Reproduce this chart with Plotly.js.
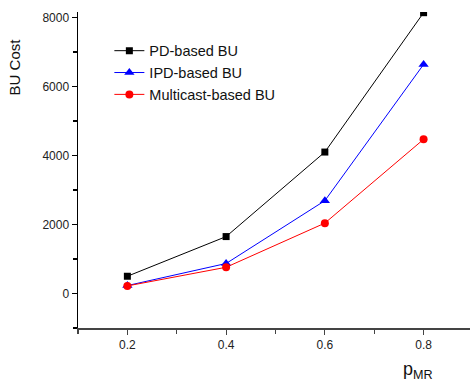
<!DOCTYPE html>
<html><head><meta charset="utf-8">
<script src="https://cdn.plot.ly/plotly-3.0.1.min.js"></script>
<style>html,body{margin:0;padding:0;background:#fff;}#chart{width:470px;height:385px;}</style>
</head><body><div id="chart"></div>
<script>
const pMR = [0.2, 0.4, 0.6, 0.8];
const pdBU = [500, 1650, 4100, 8140];
const ipdBU = [230, 870, 2690, 6640];
const multicastBU = [220, 760, 2040, 4470];
const seriesNames = ['PD-based BU', 'IPD-based BU', 'Multicast-based BU'];
const xTickVals = [0.2, 0.4, 0.6, 0.8];
const xTickText = ['0.2', '0.4', '0.6', '0.8'];
const yTickVals = [0, 2000, 4000, 6000, 8000];
const yTickText = ['0', '2000', '4000', '6000', '8000'];

const traces = [
  {x: pMR, y: pdBU, name: seriesNames[0], mode: 'lines+markers',
   line: {color: '#000000', width: 1}, marker: {symbol: 'square', size: 7, color: '#000000'}},
  {x: pMR, y: ipdBU, name: seriesNames[1], mode: 'lines+markers',
   line: {color: '#0000ff', width: 1}, marker: {symbol: 'triangle-up', size: 9, color: '#0000ff'}},
  {x: pMR, y: multicastBU, name: seriesNames[2], mode: 'lines+markers',
   line: {color: '#ff0000', width: 1}, marker: {symbol: 'circle', size: 8, color: '#ff0000'}}
];

const layout = {
  width: 470, height: 385,
  margin: {l: 78, r: 0, t: 12, b: 57},
  paper_bgcolor: '#fff', plot_bgcolor: '#fff',
  font: {family: 'Liberation Sans, Arial, sans-serif', size: 12, color: '#222'},
  showlegend: true,
  legend: {x: 0.08, y: 0.928, xanchor: 'left', yanchor: 'top', bgcolor: 'rgba(0,0,0,0)',
           font: {size: 14.5, color: '#111'}, tracegroupgap: 0, itemsizing: 'trace'},
  xaxis: {range: [0.1, 0.894], showgrid: false, zeroline: false,
          showline: true, linecolor: '#444', linewidth: 1.5,
          ticks: 'outside', ticklen: 5, tickwidth: 1.2, tickcolor: '#444',
          tickvals: xTickVals, ticktext: xTickText, tickfont: {size: 12, color: '#222'},
          minor: {tickvals: [0.1, 0.3, 0.5, 0.7], ticks: 'outside', ticklen: 4, tickwidth: 1.2, tickcolor: '#444'}},
  yaxis: {range: [-1000, 8160], showgrid: false, zeroline: false,
          showline: true, linecolor: '#000', linewidth: 1.5,
          ticks: 'outside', ticklen: 5, tickwidth: 1.2, tickcolor: '#000',
          tickvals: yTickVals, ticktext: yTickText, tickfont: {size: 12, color: '#222'},
          minor: {tickvals: [-1000, 1000, 3000, 5000, 7000], ticks: 'outside', ticklen: 4, tickwidth: 1.2, tickcolor: '#000'}},
  annotations: [
    {text: 'BU Cost', xref: 'paper', yref: 'paper', x: -0.163, y: 0.825, textangle: -90,
     showarrow: false, font: {size: 15, color: '#111'}, xanchor: 'center', yanchor: 'middle'},
    {text: 'p<sub>MR</sub>', xref: 'paper', yref: 'paper', x: 0.867, y: -0.133,
     showarrow: false, font: {size: 18, color: '#111'}, xanchor: 'center', yanchor: 'middle'}
  ]
};

Plotly.newPlot('chart', traces, layout, {staticPlot: true, displayModeBar: false});
</script>
</body></html>
